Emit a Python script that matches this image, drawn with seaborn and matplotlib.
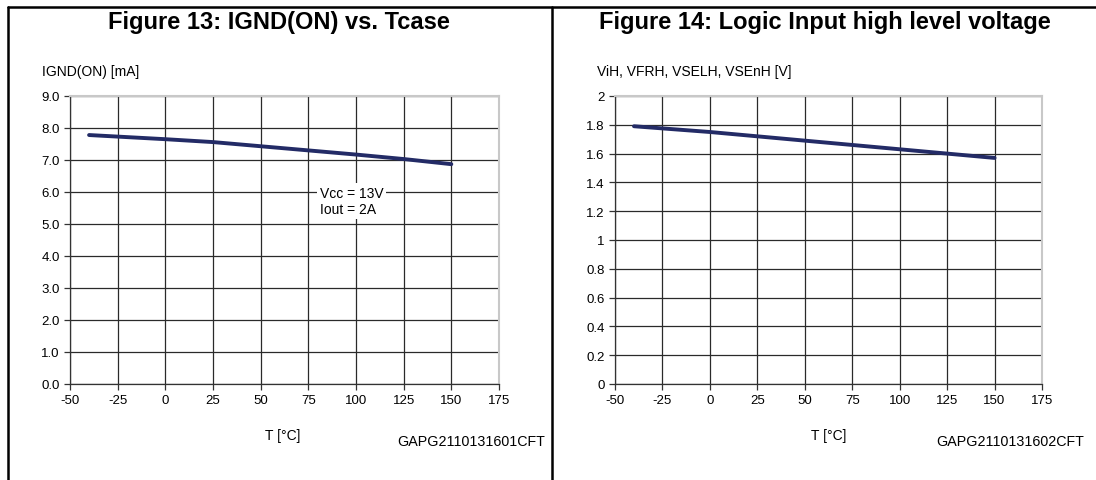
import numpy as np
import pandas as pd
import seaborn as sns
import matplotlib.pyplot as plt
from matplotlib.lines import Line2D

# data
temp = [-40, 0, 25, 50, 75, 100, 125, 150]
ignd_on = [7.78, 7.65, 7.56, 7.43, 7.30, 7.17, 7.03, 6.87]
vih = [1.79, 1.75, 1.72, 1.69, 1.66, 1.63, 1.60, 1.57]

x_ticks = [-50, -25, 0, 25, 50, 75, 100, 125, 150, 175]
y1_ticks = [0, 1, 2, 3, 4, 5, 6, 7, 8, 9]
y2_ticks = [0, 0.2, 0.4, 0.6, 0.8, 1, 1.2, 1.4, 1.6, 1.8, 2]
y2_labels = ['0', '0.2', '0.4', '0.6', '0.8', '1', '1.2', '1.4', '1.6', '1.8', '2']

sns.set_style("white")
plt.rcParams['font.family'] = ['Liberation Sans', 'DejaVu Sans']
plt.rcParams['text.color'] = 'black'
plt.rcParams['xtick.color'] = 'black'
plt.rcParams['ytick.color'] = 'black'

W, H = 1096, 481
fig = plt.figure(figsize=(W / 100, H / 100), dpi=100)

def px_axes(x0, y0, x1, y1):
    # pixel box (top-left origin) -> figure fraction
    return fig.add_axes([x0 / W, 1 - y1 / H, (x1 - x0) / W, (y1 - y0) / H])

line_col = '#232b66'
tick_fs = 9.5
lab_fs = 10

def style_axes(ax, yticks, ylabels, ymax):
    ax.set_xlim(-50, 175)
    ax.set_ylim(0, ymax)
    ax.set_xticks(x_ticks)
    ax.set_xticklabels([str(t) for t in x_ticks], fontsize=tick_fs)
    ax.set_yticks(yticks)
    ax.set_yticklabels(ylabels, fontsize=tick_fs)
    ax.grid(True, color='#2a2a2a', linewidth=0.9)
    ax.tick_params(axis='both', length=4, width=0.9, color='#333333',
                   labelcolor='black', direction='out', pad=3.5,
                   left=True, bottom=True)
    for s in ['top', 'right']:
        ax.spines[s].set_color('#c8c8c8')
        ax.spines[s].set_linewidth(1.5)
    for s in ['left', 'bottom']:
        ax.spines[s].set_color('#333333')
        ax.spines[s].set_linewidth(0.9)
    ax.set_xlabel('')
    ax.set_ylabel('')

# left chart
ax1 = px_axes(70, 97, 499, 385)
df1 = pd.DataFrame({'T': temp, 'I': ignd_on})
sns.lineplot(data=df1, x='T', y='I', ax=ax1, color=line_col, linewidth=2.8)
style_axes(ax1, y1_ticks, ['%.1f' % v for v in y1_ticks], 9)
ax1.text(81, 5.72, 'Vcc = 13V\nIout = 2A', fontsize=lab_fs, va='center', ha='left',
         linespacing=1.15,
         bbox=dict(facecolor='white', edgecolor='none', pad=2))

# right chart
ax2 = px_axes(615, 97, 1042, 385)
df2 = pd.DataFrame({'T': temp, 'V': vih})
sns.lineplot(data=df2, x='T', y='V', ax=ax2, color=line_col, linewidth=2.8)
style_axes(ax2, y2_ticks, y2_labels, 2)

# titles and labels
fig.text(279 / W, 1 - 23 / H, 'Figure 13: IGND(ON) vs. Tcase', fontsize=17,
         fontweight='bold', ha='center', va='center')
fig.text(825 / W, 1 - 23 / H, 'Figure 14: Logic Input high level voltage', fontsize=17,
         fontweight='bold', ha='center', va='center')
fig.text(42 / W, 1 - 72 / H, 'IGND(ON) [mA]', fontsize=lab_fs, ha='left', va='center')
fig.text(597 / W, 1 - 72 / H, 'ViH, VFRH, VSELH, VSEnH [V]', fontsize=lab_fs, ha='left', va='center')
fig.text(283 / W, 1 - 436 / H, 'T [°C]', fontsize=lab_fs, ha='center', va='center')
fig.text(829 / W, 1 - 436 / H, 'T [°C]', fontsize=lab_fs, ha='center', va='center')
fig.text(545 / W, 1 - 442 / H, 'GAPG2110131601CFT', fontsize=10.3, ha='right', va='center')
fig.text(1084 / W, 1 - 442 / H, 'GAPG2110131602CFT', fontsize=10.3, ha='right', va='center')

# table frame
for xs, ys in [([8, W], [8, 8]), ([8, 8], [8, H]), ([552, 552], [8, H])]:
    fig.add_artist(Line2D([x / W for x in xs], [1 - y / H for y in ys],
                          color='black', linewidth=1.8))

fig.savefig('out.png', dpi=100)
